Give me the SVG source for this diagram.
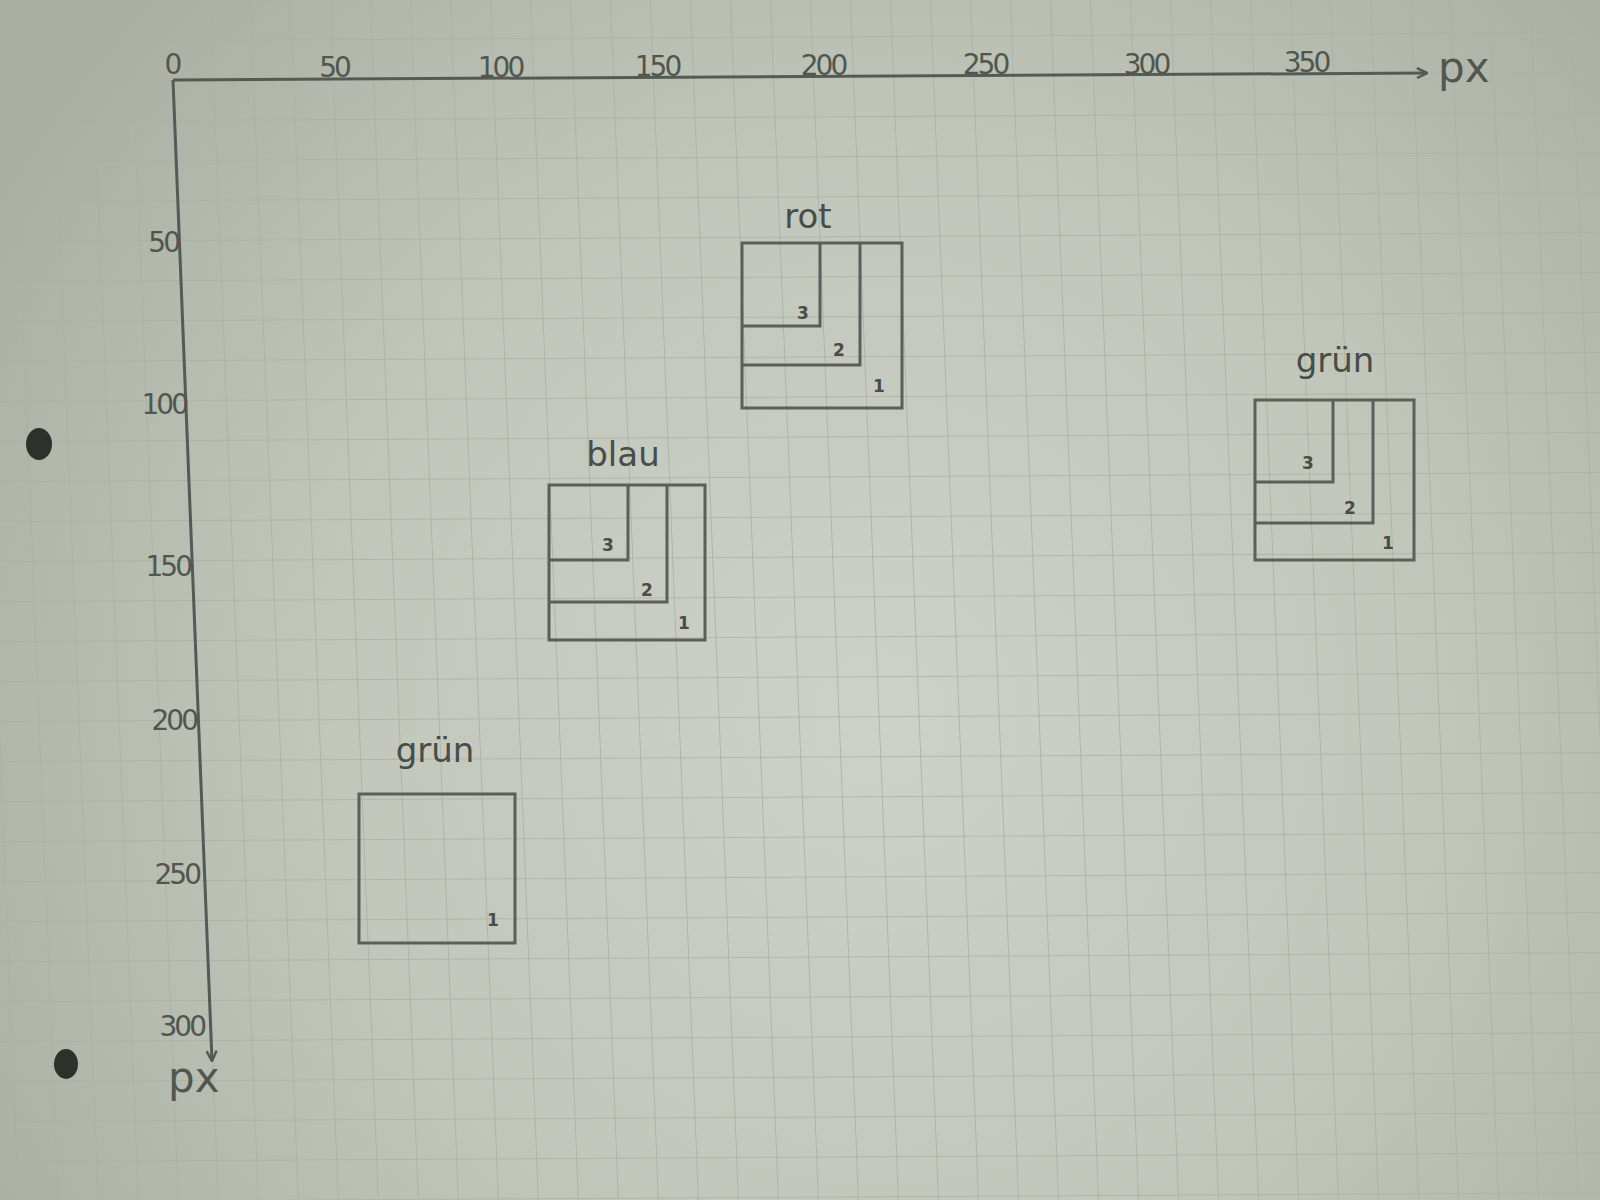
<svg xmlns="http://www.w3.org/2000/svg" width="1600" height="1200" viewBox="0 0 1600 1200">
  <defs>
    <radialGradient id="paper" cx="880" cy="720" r="1050" gradientUnits="userSpaceOnUse">
      <stop offset="0" stop-color="#cdd1c7"/>
      <stop offset="0.55" stop-color="#c1c6bb"/>
      <stop offset="1" stop-color="#a8aea1"/>
    </radialGradient>
    <pattern id="grid" width="40" height="40" patternUnits="userSpaceOnUse" patternTransform="matrix(1,-0.0056,0.04,1,173,80)">
      <path d="M0,0 L40,0 M0,0 L0,40" fill="none" stroke="#aab0a4" stroke-width="1.6"/>
    </pattern>
    <marker id="arrow" viewBox="0 0 12 12" refX="11" refY="6" markerWidth="12" markerHeight="12" markerUnits="userSpaceOnUse" orient="auto">
      <path d="M1,1 L11,6 L1,11" fill="none" stroke="#555a55" stroke-width="2.5"/>
    </marker>
    <style>
      .ax { fill: none; stroke: #555a55; stroke-width: 3; }
      .box { fill: none; stroke: #5a5f5a; stroke-width: 3; }
      .tick { font-family: "DejaVu Sans", "Liberation Sans", sans-serif; font-size: 28px; fill: #51564f; letter-spacing: -3px; }
      .unit { font-family: "DejaVu Sans", "Liberation Sans", sans-serif; font-size: 42px; fill: #51564f; }
      .name { font-family: "DejaVu Sans", "Liberation Sans", sans-serif; font-size: 34px; fill: #484d48; text-anchor: middle; }
      .num { font-family: "DejaVu Sans", "Liberation Sans", sans-serif; font-size: 17px; font-weight: bold; fill: #484d48; text-anchor: middle; }
    </style>
  </defs>

  <rect x="0" y="0" width="1600" height="1200" fill="url(#paper)"/>
  <rect x="0" y="0" width="1600" height="1200" fill="url(#grid)"/>

  <!-- punch holes -->
  <ellipse cx="39" cy="444" rx="13" ry="16" fill="#2e302c"/>
  <ellipse cx="66" cy="1064" rx="12" ry="15" fill="#2e302c"/>

  <g id="connectors">
    <line class="ax" x1="173" y1="80" x2="1427" y2="73" marker-end="url(#arrow)"/>
    <line class="ax" x1="173" y1="80" x2="212" y2="1061" marker-end="url(#arrow)"/>
  </g>

  <g id="axis-labels">
    <text class="tick" x="172" y="74" text-anchor="middle">0</text>
    <text class="tick" x="334" y="77" text-anchor="middle">50</text>
    <text class="tick" x="500" y="77" text-anchor="middle">100</text>
    <text class="tick" x="657" y="76" text-anchor="middle">150</text>
    <text class="tick" x="823" y="75" text-anchor="middle">200</text>
    <text class="tick" x="985" y="74" text-anchor="middle">250</text>
    <text class="tick" x="1146" y="74" text-anchor="middle">300</text>
    <text class="tick" x="1306" y="72" text-anchor="middle">350</text>
    <text class="unit" x="1438" y="82">px</text>

    <text class="tick" x="178" y="252" text-anchor="end">50</text>
    <text class="tick" x="186" y="414" text-anchor="end">100</text>
    <text class="tick" x="190" y="576" text-anchor="end">150</text>
    <text class="tick" x="196" y="730" text-anchor="end">200</text>
    <text class="tick" x="199" y="884" text-anchor="end">250</text>
    <text class="tick" x="204" y="1036" text-anchor="end">300</text>
    <text class="unit" x="168" y="1092">px</text>
  </g>

  <g id="rot">
    <text class="name" x="808" y="228">rot</text>
    <rect class="box" x="742" y="243" width="160" height="165"/>
    <path class="box" d="M860,243 L860,365 L742,365"/>
    <path class="box" d="M820,243 L820,326 L742,326"/>
    <text class="num" x="803" y="319">3</text>
    <text class="num" x="839" y="356">2</text>
    <text class="num" x="879" y="392">1</text>
  </g>

  <g id="blau">
    <text class="name" x="623" y="466">blau</text>
    <rect class="box" x="549" y="485" width="156" height="155"/>
    <path class="box" d="M667,485 L667,602 L549,602"/>
    <path class="box" d="M628,485 L628,560 L549,560"/>
    <text class="num" x="608" y="551">3</text>
    <text class="num" x="647" y="596">2</text>
    <text class="num" x="684" y="629">1</text>
  </g>

  <g id="gruen-links">
    <text class="name" x="435" y="762">grün</text>
    <rect class="box" x="359" y="794" width="156" height="149"/>
    <text class="num" x="493" y="926">1</text>
  </g>

  <g id="gruen-rechts">
    <text class="name" x="1335" y="372">grün</text>
    <rect class="box" x="1255" y="400" width="159" height="160"/>
    <path class="box" d="M1373,400 L1373,523 L1255,523"/>
    <path class="box" d="M1333,400 L1333,482 L1255,482"/>
    <text class="num" x="1308" y="469">3</text>
    <text class="num" x="1350" y="514">2</text>
    <text class="num" x="1388" y="549">1</text>
  </g>
</svg>
